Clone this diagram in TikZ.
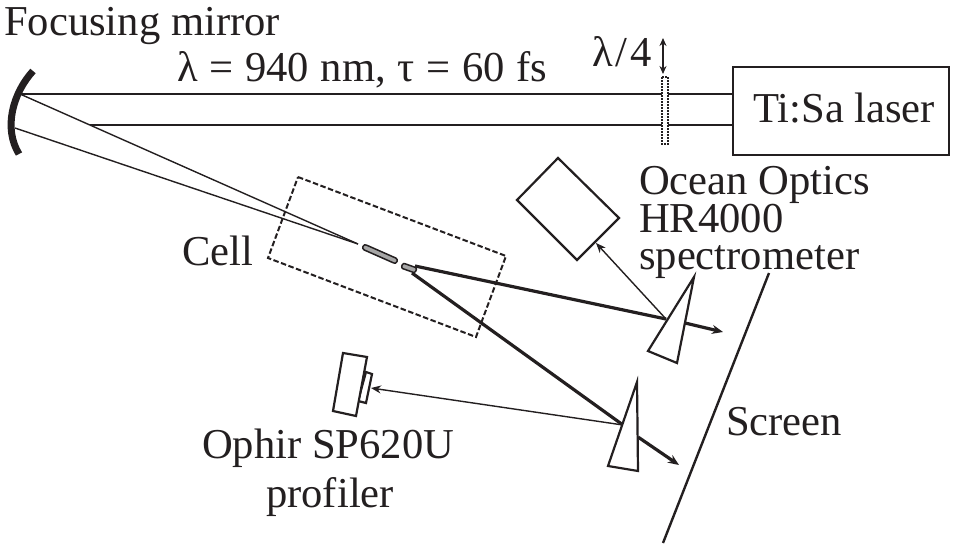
\documentclass[tikz,border=0pt]{standalone}
\usepackage{fontspec}
\setmainfont{Liberation Serif}
\usetikzlibrary{arrows.meta}
\definecolor{ink}{HTML}{231F20}
\tikzset{
  x=1pt,y=-1pt,
  lbl/.style={anchor=base west,inner sep=0pt,text=ink,font=\fontsize{42.6}{42.6}\selectfont},
  beam/.style={draw=ink,line width=1.7pt},
  thin beam/.style={draw=ink,line width=1.4pt},
  thick beam/.style={draw=ink,line width=3.2pt},
  optic/.style={draw=ink,line width=2.2pt,fill=white,line join=miter},
  tip/.style={-{Stealth[length=11pt,width=9pt]}},
  smalltip/.style={-{Stealth[length=10pt,width=8pt]}},
}
\begin{document}
\begin{tikzpicture}
\useasboundingbox (0,0) rectangle (954,549);
% labels
\node[lbl] (focus) at (4,35) {Focusing mirror};
\node[lbl] (params) at (177,81) {\spaceskip=11.7pt λ = 940 nm, τ = 60 fs};
\node[lbl] (wave) at (592,66) {λ\kern3pt/\kern3pt4};
\node[lbl] (cell) at (182,265) {Cell};
\node[lbl] (ocean) at (639,194) {Ocean Optics};
\node[lbl] (hr) at (639,232) {HR4000};
\node[lbl] (spec) at (639,269) {spectrometer};
\node[lbl] (screenl) at (726,435) {Screen};
\node[lbl] (ophir) at (202,458) {Ophir SP620U};
\node[lbl] (prof) at (266,507) {profiler};
% laser
\node[draw=ink,line width=2.2pt,minimum width=216pt,minimum height=88pt,anchor=north west,inner sep=0pt] (laser) at (732,66) {};
\node[lbl] (lasertxt) at (753,122) {Ti:Sa laser};
% coordinates
\coordinate (m1) at (20,94);
\coordinate (m2) at (15,128);
\coordinate (f1) at (90,125);
\coordinate (l1) at (732,94);
\coordinate (l2) at (732,125);
\coordinate (w) at (358,244);
\coordinate (o1) at (415,266);
\coordinate (o2) at (412,273);
\coordinate (p1) at (666,319);
\coordinate (p2) at (623,425);
\coordinate (e1) at (685,323);
\coordinate (e2) at (723,332);
\coordinate (e3) at (638,437);
\coordinate (e4) at (679,465);
\coordinate (specin) at (596,243);
\coordinate (profin) at (371,388);
% beams
\draw[beam] (m1) -- (l1);
\draw[beam] (f1) -- (l2);
\draw[thin beam] (m1) -- (w);
\draw[thin beam] (m2) -- (w);
% mirror
\draw[draw=ink,line width=7pt] (33,71) .. controls (13,93) and (3,128) .. (19,154);
% cell
\draw[draw=ink,line width=2pt,dash pattern=on 5.5pt off 2.5pt] (298,177) -- (506,256) -- (476,337) -- (268,258) -- cycle;
% filaments
\draw[draw=ink,line width=1.5pt,fill=gray!70,rounded corners=2.5pt] (364,244) -- (398,259) -- (396,264) -- (362,249) -- cycle;
% output beams
\draw[thick beam] (o1) -- (p1);
\draw[thick beam] (o2) -- (p2);
\draw[thick beam,tip] (e1) -- (e2);
\draw[thick beam,tip] (e3) -- (e4);
\draw[draw=ink,line width=1.5pt,fill=gray!70,rounded corners=2pt] (403,263) -- (417,268) -- (415,273) -- (401,268) -- cycle;
% spectrometer
\draw[optic] (517,200) -- (558,158) -- (619,218) -- (577,260) -- cycle;
% thin pick-offs
\draw[thin beam,smalltip] (p1) -- (specin);
\draw[thin beam,smalltip] (p2) -- (profin);
% wedges
\draw[optic] (694,277) -- (648,351) -- (677,363) -- cycle;
\draw[optic] (637,382) -- (608,466) -- (638,471) -- cycle;
% profiler
\draw[optic] (366,372) -- (372,374) -- (366,403) -- (358,401) -- cycle;
\draw[optic] (343,353) -- (367,357) -- (356,416) -- (333,411) -- cycle;
% screen
\draw[draw=ink,line width=2.4pt] (769,273) -- (663,543);
% wave plate
\draw[draw=ink,line width=1.2pt,dash pattern=on 2pt off 1pt,fill=white] (662,77) rectangle (668,144);
\draw[draw=ink,line width=1.6pt,{Stealth[length=8pt,width=7pt]}-{Stealth[length=8pt,width=7pt]}] (663,38) -- (663,74);
\end{tikzpicture}
\end{document}
